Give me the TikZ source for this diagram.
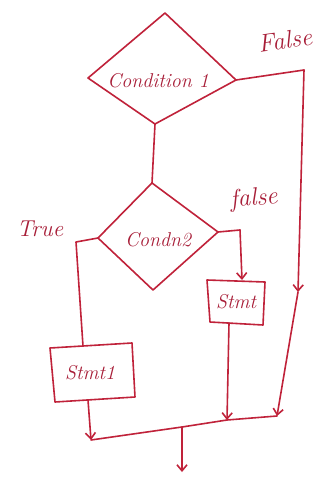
\documentclass[tikz,border=0pt]{standalone}
\usetikzlibrary{arrows.meta}
\definecolor{ink}{HTML}{C0223A}
\definecolor{inktext}{HTML}{A81E38}
\begin{document}
\begin{tikzpicture}[x=1pt,y=-1pt,
  pen/.style={draw=ink,line width=1.6pt,line join=round,line cap=round},
  flow/.style={pen,-{Straight Barb[length=6pt,width=10pt]}},
  lbl/.style={text=inktext,font=\itshape\fontsize{20}{22}\selectfont,inner sep=1pt},
  tag/.style={text=inktext,font=\itshape\fontsize{25}{27}\selectfont,inner sep=1pt}]
\useasboundingbox (0,0) rectangle (333,477);
\fill[white] (0,0) rectangle (333,477);

% first decision
\coordinate (d1t) at (165,13);
\coordinate (d1r) at (236,80);
\coordinate (d1b) at (155,124);
\coordinate (d1l) at (88,78);
\draw[pen] (d1t)--(d1r)--(d1b)--(d1l)--cycle;
\node[lbl] (c1) at (158,81) {Condition 1};

% second decision
\coordinate (d2t) at (152,183);
\coordinate (d2r) at (218,232);
\coordinate (d2b) at (153,290);
\coordinate (d2l) at (98,238);
\draw[pen] (d2t)--(d2r)--(d2b)--(d2l)--cycle;
\node[lbl] (c2) at (158,240) {Condn2};

% statement boxes
\coordinate (s2a) at (207,280);
\coordinate (s2b) at (265,282);
\coordinate (s2c) at (263,325);
\coordinate (s2d) at (210,322);
\draw[pen] (s2a)--(s2b)--(s2c)--(s2d)--cycle;
\node[lbl] (s2) at (236,302) {Stmt};

\coordinate (s1a) at (50,348);
\coordinate (s1b) at (132,343);
\coordinate (s1c) at (135,397);
\coordinate (s1d) at (55,402);
\draw[pen] (s1a)--(s1b)--(s1c)--(s1d)--cycle;
\node[lbl] (s1) at (90,373) {Stmt1};

% branch labels
\node[tag,rotate=8] (f1) at (285,40) {False};
\node[tag,rotate=5] (f2) at (254,199) {false};
\node[tag,font=\itshape\fontsize{23}{25}\selectfont] (t2) at (40,229) {True};

% junction points
\coordinate (fc1) at (304,70);
\coordinate (fm1) at (298,292);
\coordinate (jR) at (277,416);
\coordinate (jM) at (227,420);
\coordinate (jC) at (182,427);
\coordinate (jL) at (91,440);
\coordinate (out) at (182,472);
\coordinate (r2) at (240,230);
\coordinate (s2top) at (242,280);
\coordinate (s2bot) at (229,323);
\coordinate (l2) at (76,242);
\coordinate (s1top) at (83,346);
\coordinate (s1bot) at (88,400);

% connectors
\draw[pen] (d1b) -- (d2t);
\draw[pen] (d1r) -- (fc1);
\draw[flow] (fc1) -- (fm1);
\draw[flow] (fm1) -- (jR);
\draw[pen] (d2r) -- (r2);
\draw[flow] (r2) -- (s2top);
\draw[pen] (d2l) -- (l2) -- (s1top);
\draw[flow] (s1bot) -- (jL);
\draw[flow] (s2bot) -- (jM);
\draw[pen] (jL) -- (jC) -- (jM) -- (jR);
\draw[flow] (jC) -- (out);
\end{tikzpicture}
\end{document}
